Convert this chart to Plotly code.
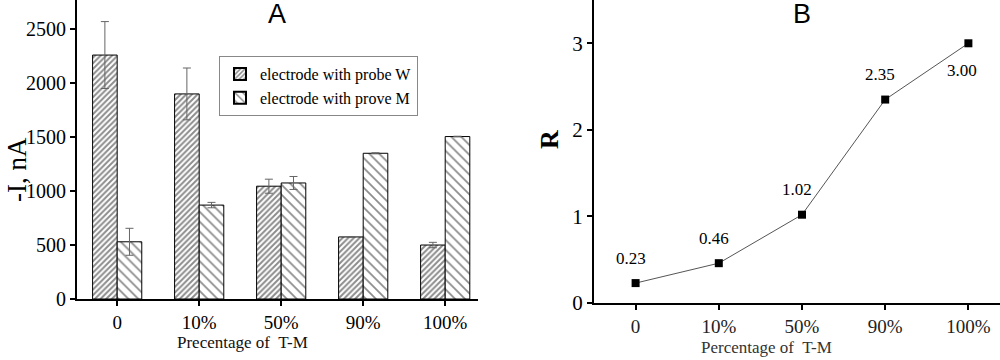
import plotly.graph_objects as go

categories = ["0", "10%", "50%", "90%", "100%"]
probe_w = [2260, 1900, 1045, 575, 500]
probe_w_err = [310, 240, 65, 4, 25]
probe_m = [530, 870, 1075, 1350, 1505]
probe_m_err = [125, 25, 60, 5, 3]
ratio_r = [0.23, 0.46, 1.02, 2.35, 3.00]
ratio_labels = ["0.23", "0.46", "1.02", "2.35", "3.00"]
label_shift = [25, 25, 25, 25, -27]

serif = "Liberation Serif"
sans = "Liberation Sans"

PLOT_H = 303.0  # plot-area height in px (360 - bottom margin)


def py(pix):
    """pixel row -> paper y"""
    return (PLOT_H - pix) / PLOT_H


fig = go.Figure()

fig.add_trace(go.Bar(
    x=categories, y=probe_w, name="electrode with probe W",
    marker=dict(color="white", line=dict(color="black", width=1),
                pattern=dict(shape="/", size=4, solidity=0.5, fgcolor="#1a1a1a", bgcolor="white")),
    error_y=dict(type="data", array=probe_w_err, color="#666", thickness=1, width=4),
    xaxis="x", yaxis="y",
))
fig.add_trace(go.Bar(
    x=categories, y=probe_m, name="electrode with prove M",
    marker=dict(color="white", line=dict(color="black", width=1),
                pattern=dict(shape="\\", size=7, solidity=0.25, fgcolor="#1a1a1a", bgcolor="white")),
    error_y=dict(type="data", array=probe_m_err, color="#666", thickness=1, width=4),
    xaxis="x", yaxis="y",
))

fig.add_trace(go.Scatter(
    x=categories, y=ratio_r, mode="lines+markers", showlegend=False,
    line=dict(color="#555", width=1),
    marker=dict(symbol="square", size=8, color="black"),
    xaxis="x2", yaxis="y2",
))

annotations = []
for c, v, t, s in zip(categories, ratio_r, ratio_labels, label_shift):
    annotations.append(dict(x=c, y=v, xref="x2", yref="y2", text=t, showarrow=False,
                            xshift=-5 if s > 0 else -6, yshift=s,
                            font=dict(family=serif, size=17, color="black")))
# panel letters
annotations.append(dict(x=0.277, y=py(14), xref="paper", yref="paper", text="A", showarrow=False,
                        xanchor="center", yanchor="middle", font=dict(family=sans, size=27, color="black")))
annotations.append(dict(x=0.802, y=py(14), xref="paper", yref="paper", text="B", showarrow=False,
                        xanchor="center", yanchor="middle", font=dict(family=sans, size=27, color="black")))
# axis titles
annotations.append(dict(x=0.242, y=py(342), xref="paper", yref="paper", text="Precentage of  T-M",
                        showarrow=False, xanchor="center", yanchor="middle",
                        font=dict(family=serif, size=17, color="#111")))
annotations.append(dict(x=0.766, y=py(347), xref="paper", yref="paper", text="Percentage of  T-M",
                        showarrow=False, xanchor="center", yanchor="middle",
                        font=dict(family=serif, size=17, color="#333")))
annotations.append(dict(x=0.017, y=py(170), xref="paper", yref="paper", text="-I, nA", textangle=-90,
                        showarrow=False, xanchor="center", yanchor="middle",
                        font=dict(family=serif, size=27, color="black")))
annotations.append(dict(x=0.549, y=py(140), xref="paper", yref="paper", text="<b>R</b>", textangle=-90,
                        showarrow=False, xanchor="center", yanchor="middle",
                        font=dict(family=serif, size=26, color="black")))

axis_common = dict(showline=True, linecolor="black", linewidth=2, ticks="outside",
                   ticklen=5, tickwidth=2, tickcolor="black", showgrid=False, zeroline=False,
                   automargin=False)

fig.update_layout(
    width=1000, height=360,
    margin=dict(l=0, r=0, t=0, b=57, autoexpand=False),
    paper_bgcolor="white", plot_bgcolor="white",
    barmode="group", bargap=0.4, bargroupgap=0,
    xaxis=dict(domain=[0.077, 0.478], range=[-0.49, 4.4], anchor="y",
               tickfont=dict(family=serif, size=19, color="black"), **axis_common),
    yaxis=dict(domain=[4 / PLOT_H, 1], range=[0, 2770], anchor="x",
               tickvals=[0, 500, 1000, 1500, 2000, 2500],
               tickfont=dict(family=serif, size=20, color="black"), **axis_common),
    xaxis2=dict(domain=[0.594, 1.0], range=[-0.5, 4.38], anchor="y2",
                tickfont=dict(family=serif, size=19, color="#222"), **axis_common),
    yaxis2=dict(domain=[0, 1], range=[0, 3.5], anchor="x2", tickvals=[0, 1, 2, 3],
                tickfont=dict(family=serif, size=21, color="black"), **axis_common),
    legend=dict(x=0.219, y=py(56), xanchor="left", yanchor="top",
                bordercolor="#888", borderwidth=1, bgcolor="white",
                font=dict(family=serif, size=16, color="black"),
                tracegroupgap=0, itemsizing="constant"),
    annotations=annotations,
)

fig.write_html("out.html", config={"displayModeBar": False},
               post_script="document.body.style.margin='0';document.body.style.overflow='hidden';")
